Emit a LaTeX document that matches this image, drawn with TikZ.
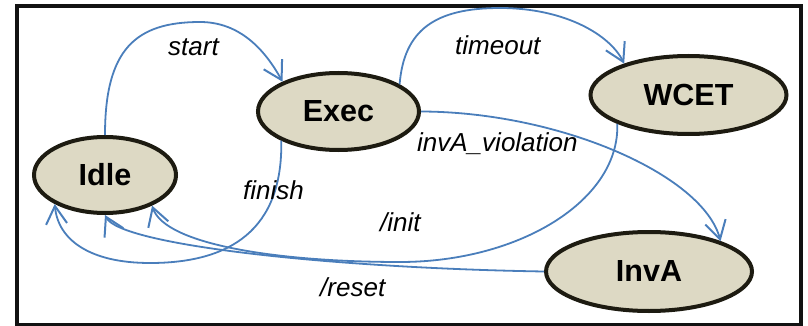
\documentclass[tikz,border=0pt]{standalone}
\usepackage{fontspec}
\setmainfont{Liberation Sans}
\usetikzlibrary{shapes.geometric,arrows.meta}
\definecolor{statefill}{HTML}{DDD9C4}
\definecolor{stateline}{HTML}{1D1B11}
\definecolor{edgeblue}{HTML}{4A7EBB}
\tikzset{
  state/.style={ellipse, draw=stateline, fill=statefill, line width=4pt,
    inner sep=0pt, font=\fontsize{30.5}{36}\selectfont\bfseries},
  trans/.style={draw=edgeblue, line width=1.8pt,
    -{Straight Barb[length=18pt,width=21pt,line width=2pt]}},
  lbl/.style={anchor=base west, inner sep=0pt,
    font=\fontsize{26}{31}\selectfont\itshape}
}
\begin{document}
\begin{tikzpicture}[x=1pt,y=-1pt]
  \useasboundingbox (0,0) rectangle (808,326);
  % outer frame
  \draw[line width=4pt, draw=black!93] (17,6.5) rectangle (800.5,324.5);

  % states
  \node[state, minimum width=142pt, minimum height=76pt] (Idle) at (105,175) {Idle};
  \node[state, minimum width=161pt, minimum height=77pt] (Exec) at (338.5,111.5) {Exec};
  \node[state, minimum width=196pt, minimum height=78pt] (WCET) at (688.5,95) {WCET};
  \node[state, minimum width=206pt, minimum height=79pt] (InvA) at (649,271.5) {InvA};

  % transitions
  \draw[trans] (Idle.north) .. controls (105,50) and (135,22) .. (200,22)
                            .. controls (240,22) and (265,50) .. (Exec.152);
  \draw[trans] (Exec.24) .. controls (404,30) and (435,8) .. (500,8)
                         .. controls (565,8) and (610,35) .. (WCET.154);
  \draw[trans] (Exec.east) .. controls (560,112) and (703,175) .. (InvA.23);
  \draw[trans] (Exec.207) .. controls (283,230) and (230,263) .. (150,263)
                          .. controls (90,263) and (58,240) .. (Idle.210);
  \draw[trans] (WCET.202) .. controls (620,200) and (520,262) .. (400,262)
                          .. controls (280,262) and (165,245) .. (Idle.327);
  \draw[trans] (InvA.west) .. controls (330,268) and (120,245) .. (Idle.south);

  % transition labels
  \node[lbl] (lstart) at (168,56) {start};
  \node[lbl] (ltimeout) at (455,55) {timeout};
  \node[lbl] (lviol) at (417,151) {invA\_violation};
  \node[lbl] (lfinish) at (243,199) {finish};
  \node[lbl] (linit) at (380,231) {/init};
  \node[lbl] (lreset) at (320,296) {/reset};
\end{tikzpicture}
\end{document}
